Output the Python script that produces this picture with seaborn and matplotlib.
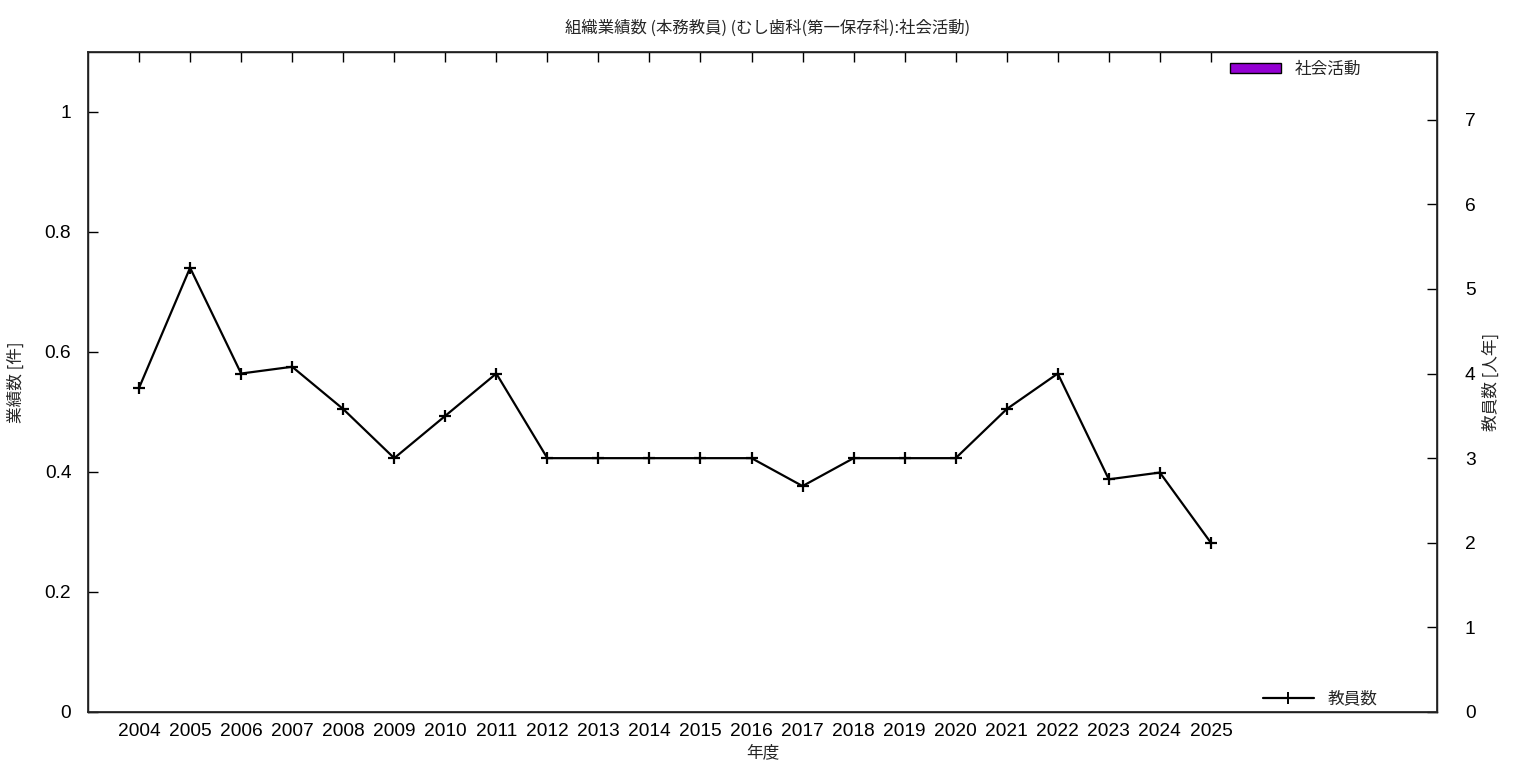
import matplotlib
matplotlib.use("Agg")
import matplotlib.pyplot as plt
import seaborn as sns
import pandas as pd
from matplotlib.patches import Patch
from matplotlib.lines import Line2D

years = list(range(2004, 2026))
# 社会活動 (件) - no records in any year
activity = [0] * len(years)
# 教員数 (人年)
staff = [3.83, 5.25, 4.0, 4.08, 3.58, 3.0, 3.5, 4.0, 3.0, 3.0, 3.0,
         3.0, 3.0, 2.67, 3.0, 3.0, 3.0, 3.58, 4.0, 2.75, 2.83, 2.0]

df = pd.DataFrame({'year': years, 'activity': activity, 'staff': staff})

sns.set_theme(style="white")
plt.rcParams['font.family'] = ['Noto Sans CJK JP', 'DejaVu Sans']
num_font = ['Liberation Sans', 'Noto Sans CJK JP']

fig = plt.figure(figsize=(15.36, 7.68), dpi=100)
ax = fig.add_axes([88 / 1536, 56 / 768, (1437 - 88) / 1536, (712 - 52) / 768])

sns.barplot(data=df, x='year', y='activity', native_scale=True, color='#9400D3',
            width=0.5, linewidth=0, ax=ax)
ax.set_xlim(2003, 2029.43)
ax.set_ylim(0, 1.1)
ax.set_yticks([0, 0.2, 0.4, 0.6, 0.8, 1])
ax.set_yticklabels(['0', '0.2', '0.4', '0.6', '0.8', '1'], family=num_font, fontsize=13.8)
ax.set_xticks(years)
ax.set_xticklabels([str(y) for y in years], family=num_font, fontsize=13.8)
ax.tick_params(axis='x', direction='in', length=7, width=1, pad=8, top=True, colors='black')
ax.tick_params(axis='y', direction='in', length=7, width=1, pad=12, colors='black')
ax.set_xlabel('年度', fontsize=12, labelpad=3)
ax.set_ylabel('業績数 [件]', fontsize=12, labelpad=14)
for s in ax.spines.values():
    s.set_color('black')
    s.set_linewidth(1)

ax2 = ax.twinx()
sns.lineplot(data=df, x='year', y='staff', color='black', linewidth=1.6, marker='+',
             markersize=9, markeredgewidth=1.6, markeredgecolor='black', ax=ax2)
ax2.set_ylim(0, 7.8)
ax2.set_yticks(range(8))
ax2.set_yticklabels([str(i) for i in range(8)], family=num_font, fontsize=13.8)
ax2.tick_params(axis='y', direction='in', length=7, width=1, pad=20, colors='black')
ax2.set_ylabel('教員数 [人年]', fontsize=12, labelpad=5)
ax2.set_xlim(2003, 2029.43)
ax2.set_xlabel('')

leg1 = ax2.legend(handles=[Patch(facecolor='#9400D3', edgecolor='black', linewidth=1)],
                  labels=['社会活動'], loc='upper right', bbox_to_anchor=(0.955, 1.009),
                  frameon=False, fontsize=12, handlelength=3.1, handleheight=0.5)
ax2.add_artist(leg1)
ax2.legend(handles=[Line2D([], [], color='black', linewidth=1.6, marker='+',
                           markersize=8, markeredgewidth=1.4)],
           labels=['教員数'], loc='lower right', bbox_to_anchor=(0.967, -0.016),
           frameon=False, fontsize=12, handlelength=3.1, numpoints=1)

fig.suptitle('組織業績数 (本務教員) (むし歯科(第一保存科):社会活動)', fontsize=11.8, y=0.975)

fig.savefig('out.png', dpi=100)
